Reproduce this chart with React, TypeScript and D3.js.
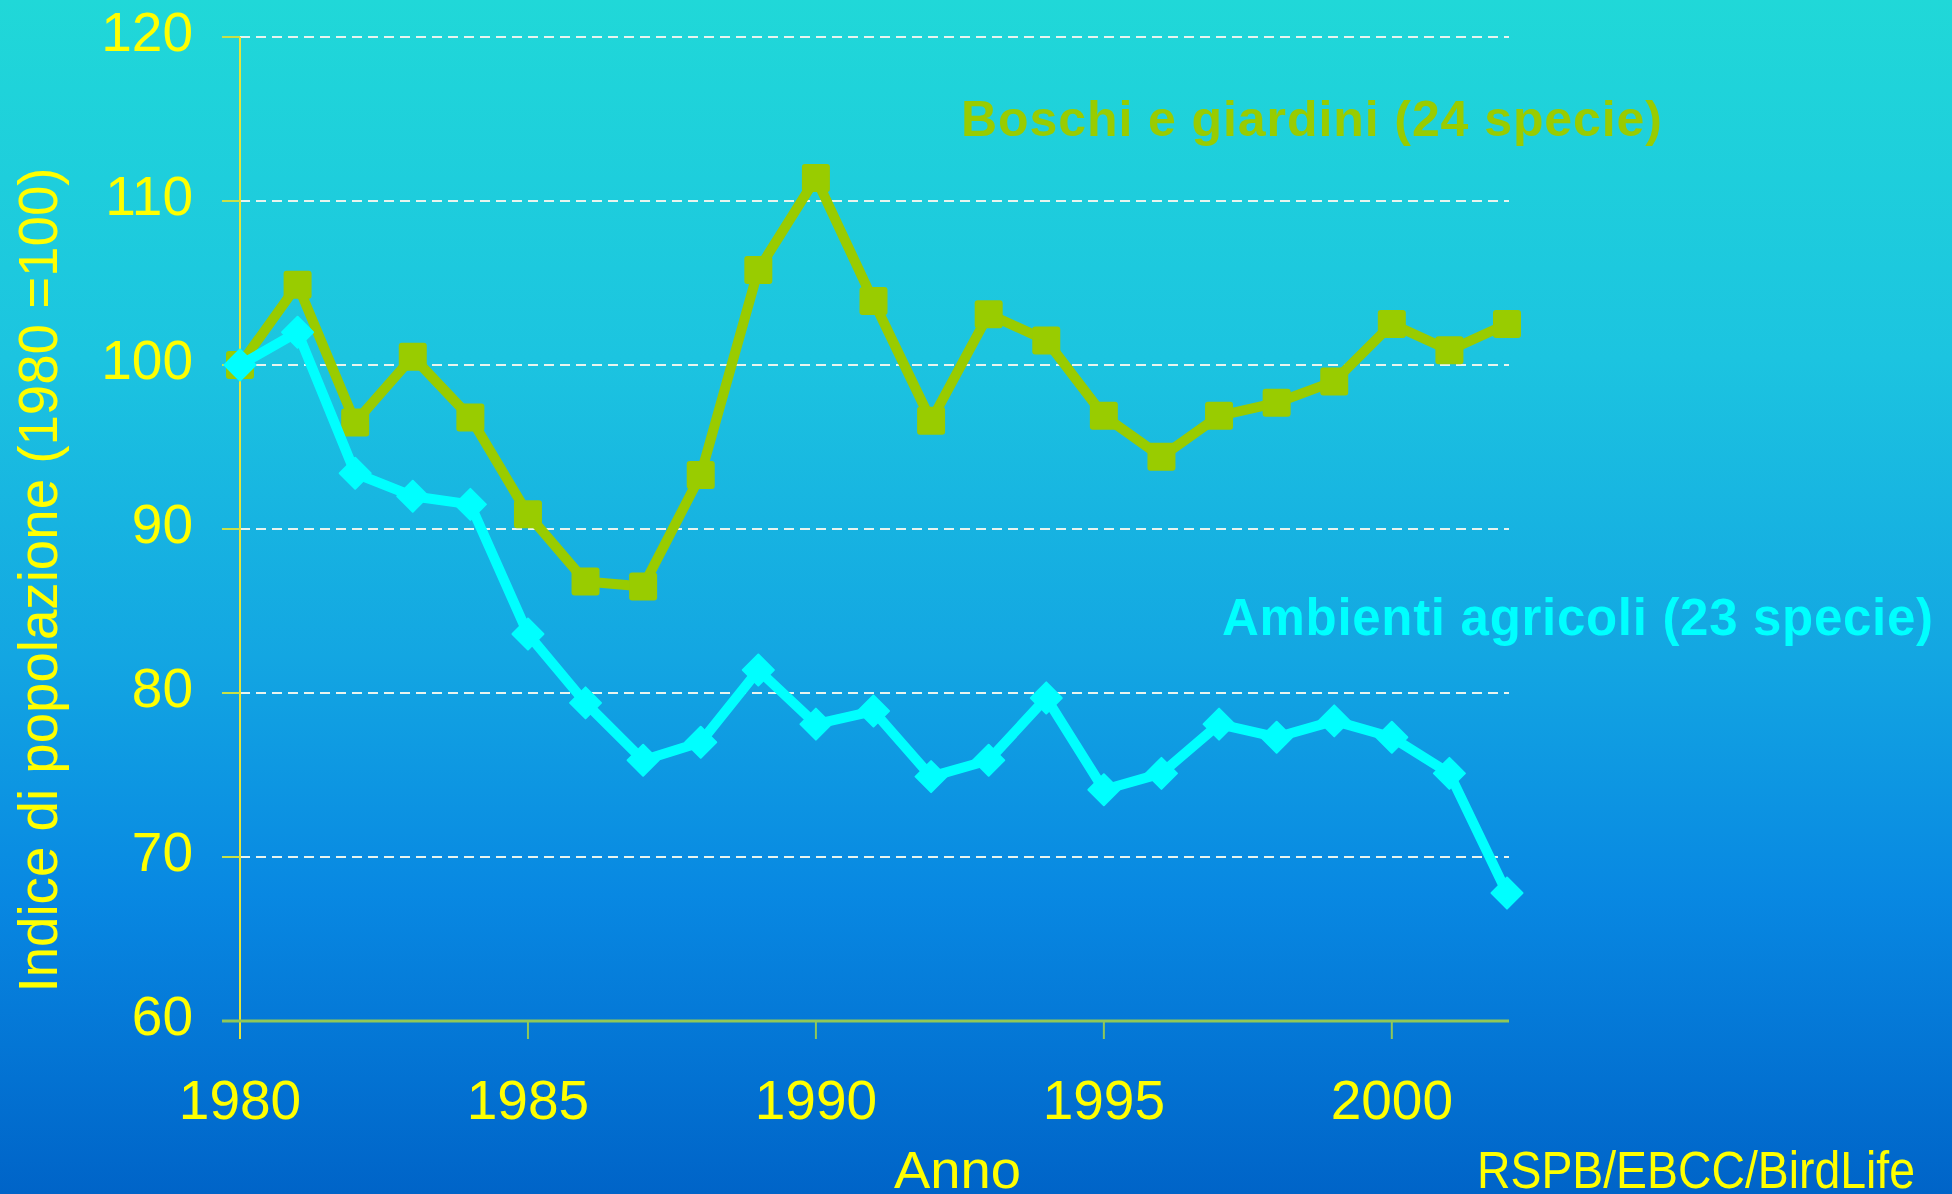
import { useEffect, useRef } from 'react';
import * as d3 from 'd3';

// Population index, 1980 = 100
const years = [1980, 1981, 1982, 1983, 1984, 1985, 1986, 1987, 1988, 1989, 1990, 1991,
  1992, 1993, 1994, 1995, 1996, 1997, 1998, 1999, 2000, 2001, 2002];

const boschi = [100.0, 104.9, 96.5, 100.5, 96.8, 90.9, 86.8, 86.5, 93.3, 105.8, 111.4, 103.9,
  96.6, 103.1, 101.5, 96.9, 94.4, 96.9, 97.7, 99.0, 102.5, 100.9, 102.5];

const agricoli = [100.0, 102.0, 93.4, 92.0, 91.5, 83.6, 79.4, 75.9, 77.0, 81.4, 78.1, 78.9,
  74.9, 75.9, 79.7, 74.1, 75.1, 78.1, 77.3, 78.3, 77.3, 75.1, 67.8];

const yTicks = [60, 70, 80, 90, 100, 110, 120];
const xTicks = [1980, 1985, 1990, 1995, 2000];

const labelBoschi = 'Boschi e giardini (24 specie)';
const labelAgricoli = 'Ambienti agricoli (23 specie)';
const yTitle = 'Indice di popolazione (1980 =100)';
const xTitle = 'Anno';
const source = 'RSPB/EBCC/BirdLife';

export default function App() {
  const svgRef = useRef<SVGSVGElement>(null);

  useEffect(() => {
    if (!svgRef.current) return;

    const svg = d3.select(svgRef.current);
    svg.selectAll('*').remove();

    const width = 1952;
    const height = 1194;
    const font = '"Liberation Sans", Arial, sans-serif';
    const yellow = '#ffff00';
    const green = '#99cc00';
    const cyan = '#00ffff';

    const x = d3.scaleLinear().domain([1980, 2002]).range([240, 1507]);
    const y = d3.scaleLinear().domain([60, 120]).range([1021, 37]);
    const plotRight = 1509;

    // Background gradient
    const defs = svg.append('defs');
    const bg = defs.append('linearGradient')
      .attr('id', 'bg-gradient')
      .attr('x1', '0%').attr('x2', '0%')
      .attr('y1', '0%').attr('y2', '100%');
    [
      [0, '#20d8d8'],
      [0.3, '#1cc4e0'],
      [0.55, '#13a6e2'],
      [0.75, '#0888e2'],
      [1, '#0064c8'],
    ].forEach(([o, c]) => {
      bg.append('stop').attr('offset', `${(o as number) * 100}%`).attr('stop-color', c as string);
    });

    svg.append('rect')
      .attr('width', width)
      .attr('height', height)
      .attr('fill', 'url(#bg-gradient)');

    // Gridlines
    svg.append('g')
      .selectAll('line')
      .data(yTicks.filter(t => t > 60))
      .join('line')
      .attr('x1', x(1980))
      .attr('x2', plotRight)
      .attr('y1', d => y(d))
      .attr('y2', d => y(d))
      .attr('stroke', '#e8f4ee')
      .attr('stroke-width', 2)
      .attr('stroke-dasharray', '10,6');

    // Y axis line + ticks
    svg.append('line')
      .attr('x1', x(1980)).attr('x2', x(1980))
      .attr('y1', y(120)).attr('y2', y(60) + 18)
      .attr('stroke', '#e4e43a')
      .attr('stroke-width', 2);

    svg.append('g')
      .selectAll('line')
      .data(yTicks)
      .join('line')
      .attr('x1', x(1980) - 18)
      .attr('x2', x(1980))
      .attr('y1', d => y(d))
      .attr('y2', d => y(d))
      .attr('stroke', '#c8e048')
      .attr('stroke-width', 2);

    // X axis line + ticks
    svg.append('line')
      .attr('x1', x(1980) - 18).attr('x2', plotRight)
      .attr('y1', y(60)).attr('y2', y(60))
      .attr('stroke', '#90c858')
      .attr('stroke-width', 3);

    svg.append('g')
      .selectAll('line')
      .data(xTicks.filter(t => t > 1980))
      .join('line')
      .attr('x1', d => x(d))
      .attr('x2', d => x(d))
      .attr('y1', y(60))
      .attr('y2', y(60) + 18)
      .attr('stroke', '#90c858')
      .attr('stroke-width', 2);

    // Tick labels
    svg.append('g')
      .selectAll('text')
      .data(yTicks)
      .join('text')
      .attr('x', 193)
      .attr('y', d => y(d) + 14)
      .attr('text-anchor', 'end')
      .style('fill', yellow)
      .style('font-family', font)
      .style('font-size', '55px')
      .text(d => d);

    svg.append('g')
      .selectAll('text')
      .data(xTicks)
      .join('text')
      .attr('x', d => x(d))
      .attr('y', 1119)
      .attr('text-anchor', 'middle')
      .style('fill', yellow)
      .style('font-family', font)
      .style('font-size', '55px')
      .text(d => d);

    // Axis titles
    svg.append('text')
      .attr('transform', 'translate(57, 580) rotate(-90)')
      .attr('text-anchor', 'middle')
      .attr('textLength', 825)
      .attr('lengthAdjust', 'spacingAndGlyphs')
      .style('fill', yellow)
      .style('font-family', font)
      .style('font-size', '55px')
      .text(yTitle);

    svg.append('text')
      .attr('x', 894)
      .attr('y', 1188)
      .attr('textLength', 127)
      .attr('lengthAdjust', 'spacingAndGlyphs')
      .style('fill', yellow)
      .style('font-family', font)
      .style('font-size', '51px')
      .text(xTitle);

    svg.append('text')
      .attr('x', 1477)
      .attr('y', 1188)
      .attr('textLength', 438)
      .attr('lengthAdjust', 'spacingAndGlyphs')
      .style('fill', yellow)
      .style('font-family', font)
      .style('font-size', '51px')
      .text(source);

    // Series
    const line = d3.line<number>()
      .x((_, i) => x(years[i]))
      .y(d => y(d));

    svg.append('path')
      .datum(boschi)
      .attr('d', line)
      .attr('fill', 'none')
      .attr('stroke', green)
      .attr('stroke-width', 10)
      .attr('stroke-linejoin', 'round');

    const sq = 28;
    svg.append('g')
      .selectAll('rect')
      .data(boschi)
      .join('rect')
      .attr('x', (_, i) => x(years[i]) - sq / 2)
      .attr('y', d => y(d) - sq / 2)
      .attr('width', sq)
      .attr('height', sq)
      .attr('rx', 3)
      .attr('fill', green);

    svg.append('path')
      .datum(agricoli)
      .attr('d', line)
      .attr('fill', 'none')
      .attr('stroke', cyan)
      .attr('stroke-width', 10)
      .attr('stroke-linejoin', 'round');

    const dh = 15.5;
    svg.append('g')
      .selectAll('path')
      .data(agricoli)
      .join('path')
      .attr('d', (d, i) => {
        const cx = x(years[i]);
        const cy = y(d);
        return `M${cx},${cy - dh}L${cx + dh},${cy}L${cx},${cy + dh}L${cx - dh},${cy}Z`;
      })
      .attr('fill', cyan)
      .attr('stroke', cyan)
      .attr('stroke-width', 2)
      .attr('stroke-linejoin', 'round');

    // Series labels
    svg.append('text')
      .attr('x', 961)
      .attr('y', 136)
      .attr('textLength', 701)
      .attr('lengthAdjust', 'spacing')
      .style('fill', green)
      .style('font-family', font)
      .style('font-weight', 'bold')
      .style('font-size', '50px')
      .text(labelBoschi);

    svg.append('text')
      .attr('x', 1222)
      .attr('y', 635)
      .attr('textLength', 711)
      .attr('lengthAdjust', 'spacing')
      .style('fill', cyan)
      .style('font-family', font)
      .style('font-weight', 'bold')
      .style('font-size', '51px')
      .text(labelAgricoli);
  }, []);

  return (
    <svg
      ref={svgRef}
      width={1952}
      height={1194}
      style={{ position: 'absolute', left: 0, top: 0, display: 'block' }}
    />
  );
}
